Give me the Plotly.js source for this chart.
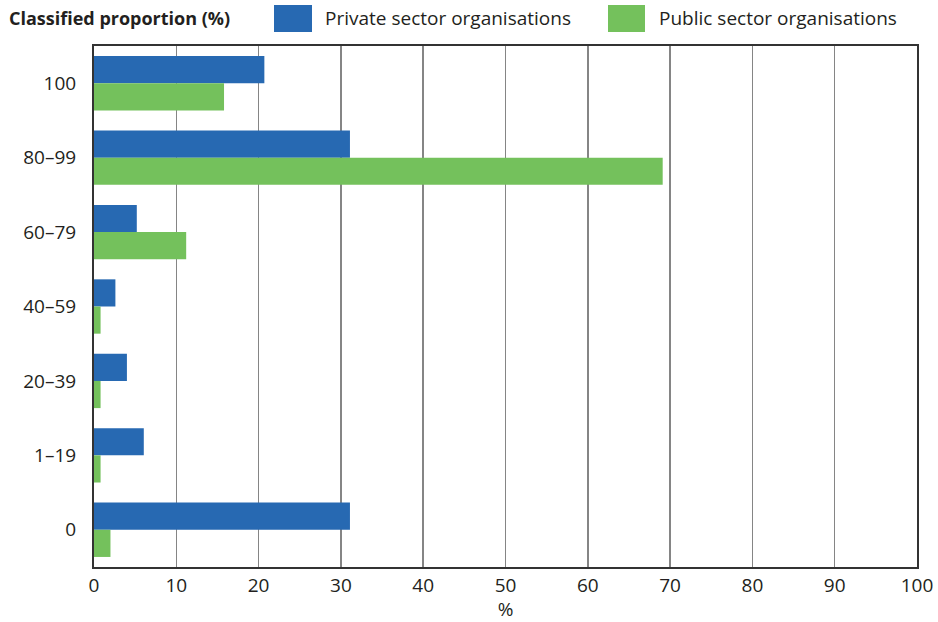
<!DOCTYPE html>
<html><head><meta charset="utf-8">
<script src="https://cdn.plot.ly/plotly-3.0.1.min.js"></script>
<style>html,body{margin:0;padding:0;background:#fff}</style>
</head><body>
<div id="chart" style="width:938px;height:622px"></div>
<script>
const categories = ["100", "80–99", "60–79", "40–59", "20–39", "1–19", "0"];
const privateSector = [20.7, 31.1, 5.2, 2.6, 4.0, 6.05, 31.1];
const publicSector = [15.8, 69.1, 11.2, 0.8, 0.8, 0.8, 2.0];
const seriesNames = ["Private sector organisations", "Public sector organisations"];
const xTicks = [0,10,20,30,40,50,60,70,80,90,100];

const W = 938, H = 622, L = 94, R = 21, T = 46, B = 55;
const pw = W - L - R, ph = H - T - B;
const px = v => (v - L) / pw;
const py = v => (H - B - v) / ph;
const FONT = "Open Sans";
const TXT = "#231f20";
const BLUE = "#2769b2", GREEN = "#74c15c";

const traces = [
  {type:"bar", orientation:"h", name:seriesNames[0], y:categories, x:privateSector, marker:{color:BLUE}, hoverinfo:"x+y"},
  {type:"bar", orientation:"h", name:seriesNames[1], y:categories, x:publicSector, marker:{color:GREEN}, hoverinfo:"x+y"}
];

const layout = {
  width:W, height:H,
  margin:{l:L, r:R, t:T, b:B, pad:0},
  paper_bgcolor:"#fff", plot_bgcolor:"#fff",
  barmode:"group", bargap:0.27, bargroupgap:0,
  showlegend:false,
  font:{family:FONT, color:TXT, size:19},
  xaxis:{range:[0,100], tickvals:xTicks, ticktext:xTicks.map(String), showgrid:true, gridcolor:"#858585", gridwidth:1.5,
         showline:true, linecolor:"#333", linewidth:2, mirror:true, zeroline:false, ticks:"", ticklen:0,
         tickfont:{size:19, color:TXT}, title:{text:"%", font:{size:19, color:TXT}, standoff:3}, fixedrange:true},
  yaxis:{type:"category", autorange:"reversed", showgrid:false, showline:true, linecolor:"#333", linewidth:2, mirror:true,
         ticks:"", tickfont:{size:19, color:TXT}, ticklabelstandoff:12, fixedrange:true},
  shapes:[
    {type:"rect", xref:"paper", yref:"paper", x0:px(274), x1:px(312), y0:py(32), y1:py(5), fillcolor:BLUE, line:{width:0}},
    {type:"rect", xref:"paper", yref:"paper", x0:px(608), x1:px(645), y0:py(32), y1:py(5), fillcolor:GREEN, line:{width:0}}
  ],
  annotations:[
    {xref:"paper", yref:"paper", x:px(7), y:py(18), xanchor:"left", yanchor:"middle", showarrow:false,
     text:"<b>Classified proportion (%)</b>", font:{size:18, color:TXT}},
    {xref:"paper", yref:"paper", x:px(323), y:py(18), xanchor:"left", yanchor:"middle", showarrow:false,
     text:seriesNames[0], font:{size:19, color:TXT}},
    {xref:"paper", yref:"paper", x:px(657), y:py(18), xanchor:"left", yanchor:"middle", showarrow:false,
     text:seriesNames[1], font:{size:19, color:TXT}}
  ]
};
Plotly.newPlot("chart", traces, layout, {displayModeBar:false, staticPlot:true});
</script>
</body></html>
